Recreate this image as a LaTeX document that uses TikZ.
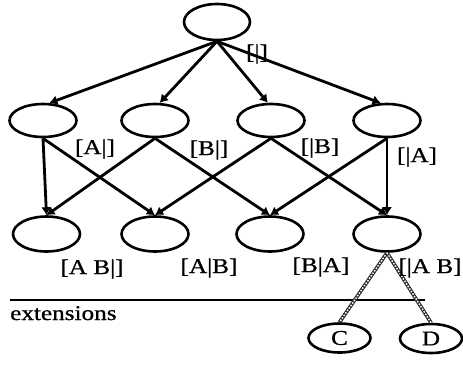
\documentclass[tikz,border=0pt]{standalone}
\usepackage{fontspec}
\setmainfont{Liberation Serif}[FakeStretch=1.2,FakeBold=0.8]
\usetikzlibrary{shapes.geometric,arrows.meta}
\tikzset{
  ell/.style={draw=black, ellipse, line width=2.6pt, inner sep=0pt},
  ellA/.style={ell, minimum width=67pt, minimum height=33pt},
  ellB/.style={ell, minimum width=67pt, minimum height=35pt},
  ellS/.style={ell, minimum width=62pt, minimum height=29pt},
  arr/.style={line width=2.8pt, -{Latex[length=8pt,width=10pt]}},
  lbl/.style={inner sep=0pt, font=\fontsize{21}{24}\selectfont},
  hatchout/.style={line width=3.6pt, black!85},
  hatchin/.style={line width=1.5pt, white, dash pattern=on 1.6pt off 1.4pt},
}
\begin{document}
\begin{tikzpicture}[x=1pt,y=-1pt]
\useasboundingbox (0,0) rectangle (463,365);
% nodes
\node[ell, minimum width=66pt, minimum height=36pt] (top) at (217,22) {};
\node[ellA] (e1) at (43,120.5) {};
\node[ellA] (e2) at (155,120.5) {};
\node[ellA] (e3) at (271,120.5) {};
\node[ellA] (e4) at (387,120.5) {};
\node[ellB] (f1) at (46.5,234) {};
\node[ellB] (f2) at (155,234) {};
\node[ellB] (f3) at (270,234) {};
\node[ellB] (f4) at (387,234) {};
\node[ellS, lbl] (C) at (339.5,338) {C};
\node[ellS, lbl] (D) at (431,338.5) {D};
% arrows from top
\draw[arr] (top.south) -- (e1.70);
\draw[arr] (top.south) -- (e2.75);
\draw[arr] (top.south) -- (e3.100);
\draw[arr] (top.south) -- (e4.110);
% second layer
\draw[arr] (e1.south) -- (f1.north);
\draw[arr] (e1.south) -- (f2.north);
\draw[arr] (e2.south) -- (f1.north);
\draw[arr] (e2.south) -- (f3.north);
\draw[arr] (e3.south) -- (f2.north);
\draw[arr] (e3.south) -- (f4.north);
\draw[arr] (e4.south) -- (f3.north);
\draw[arr] (e4.south) -- (f4.north);
% separator line
\coordinate (L1) at (10,300);
\coordinate (L2) at (425,300);
\draw[line width=2.4pt] (L1) -- (L2);
\node[lbl, anchor=base west] (ext) at (10,320) {extensions};
% dotted extension lines
\draw[hatchout] (f4.south) -- (C.north);
\draw[hatchin] (f4.south) -- (C.north);
\draw[hatchout] (f4.south) -- (D.north);
\draw[hatchin] (f4.south) -- (D.north);
% labels
\node[lbl] (l0) at (257,54) {[|]};
\node[lbl] (l1) at (95,149) {[A|]};
\node[lbl] (l2) at (209,150) {[B|]};
\node[lbl] (l3) at (320,148) {[|B]};
\node[lbl] (l4) at (417,157) {[|A]};
\node[lbl] (l5) at (92,269) {[A B|]};
\node[lbl] (l6) at (209,268) {[A|B]};
\node[lbl] (l7) at (321,267) {[B|A]};
\node[lbl] (l8) at (430,268) {[|A B]};
\end{tikzpicture}
\end{document}
